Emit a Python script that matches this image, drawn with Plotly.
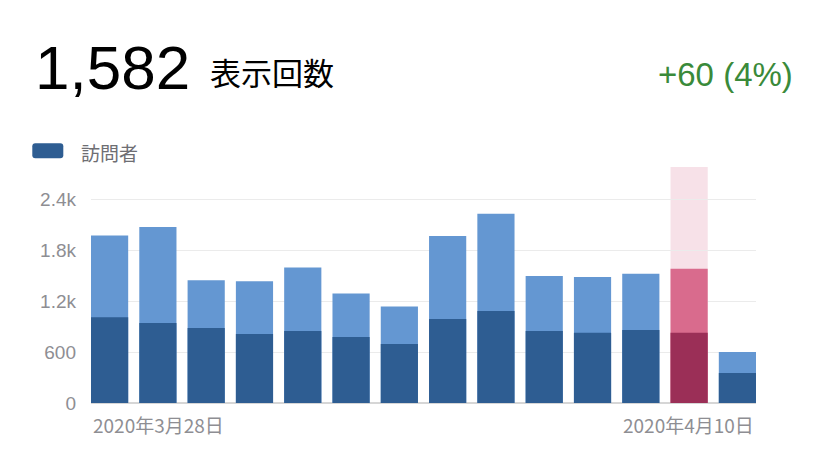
import plotly.graph_objects as go

# daily stats, 2020-03-28 .. 2020-04-10
dates = ["3/28", "3/29", "3/30", "3/31", "4/1", "4/2", "4/3",
         "4/4", "4/5", "4/6", "4/7", "4/8", "4/9", "4/10"]
views = [1972, 2073, 1445, 1434, 1595, 1289, 1136,
         1967, 2230, 1496, 1484, 1523, 1582, 601]
visitors = [1010, 942, 884, 813, 848, 778, 695,
            989, 1084, 848, 828, 860, 828, 353]
highlight = 12  # selected day

y_ticks = [0, 600, 1200, 1800, 2400]
y_tick_labels = ["0", "600", "1.2k", "1.8k", "2.4k"]
x_labels = ["2020年3月28日", "2020年4月10日"]

headline_value = "1,582"
headline_label = "表示回数"
change_text = "+60 (4%)"
legend_label = "訪問者"

LATIN = "Liberation Sans, Noto Sans CJK JP, sans-serif"
CJK = "Noto Sans CJK JP, Liberation Sans, sans-serif"
GRAY = "#8e8e93"

# page body has an 8px margin, so the figure is drawn 8px in
OFF = 8
W, H = 828 - 2 * OFF, 459 - 2 * OFF
# plot area in screen pixels
L, R, T, B = 90.7, 755.7, 167, 403


def px(x):
    return (x - L) / (R - L)


def py(y):
    return (B - y) / (B - T)


light = ["#6497d2"] * len(dates)
dark = ["#2e5d92"] * len(dates)
light[highlight] = "#d96b8d"
dark[highlight] = "#9b2f57"

fig = go.Figure()
fig.add_trace(go.Bar(x=dates, y=views, marker=dict(color=light, line_width=0),
                     showlegend=False, hoverinfo="skip"))
fig.add_trace(go.Bar(x=dates, y=visitors, marker=dict(color=dark, line_width=0),
                     showlegend=False, hoverinfo="skip"))

# highlight band behind the selected bar
fig.add_shape(type="rect", xref="x", yref="paper",
              x0=highlight - 0.385, x1=highlight + 0.385, y0=0, y1=1,
              fillcolor="rgba(217,107,141,0.2)", line_width=0, layer="between")

# legend swatch (rounded)
x0, x1, y0, y1, r = -58.7, -27.7, 8.7, 23.7, 3
path = (f"M{x0+r},{y0} L{x1-r},{y0} Q{x1},{y0} {x1},{y0+r} L{x1},{y1-r} "
        f"Q{x1},{y1} {x1-r},{y1} L{x0+r},{y1} Q{x0},{y1} {x0},{y1-r} "
        f"L{x0},{y0+r} Q{x0},{y0} {x0+r},{y0} Z")
fig.add_shape(type="path", xref="paper", yref="paper", xsizemode="pixel",
              ysizemode="pixel", xanchor=0, yanchor=1, path=path,
              fillcolor="#2e5d92", line_width=0)

annos = [
    dict(text=headline_value, x=px(33), y=py(67), xanchor="left", yanchor="middle",
         font=dict(size=62, color="#000000", family=LATIN)),
    dict(text=headline_label, x=px(208), y=py(71), xanchor="left", yanchor="middle",
         font=dict(size=31, color="#000000", family=CJK)),
    dict(text=change_text, x=px(795), y=py(75), xanchor="right", yanchor="middle",
         font=dict(size=33, color="#3a8a3a", family=LATIN)),
    dict(text=legend_label, x=px(79), y=py(152), xanchor="left", yanchor="middle",
         font=dict(size=19, color="#6e6e73", family=CJK)),
    dict(text=x_labels[0], x=0, y=py(424), xanchor="left", yanchor="middle",
         font=dict(size=19, color=GRAY, family=CJK)),
    dict(text=x_labels[1], x=1, y=py(424), xanchor="right", yanchor="middle",
         font=dict(size=19, color=GRAY, family=CJK)),
]
for a in annos:
    fig.add_annotation(xref="paper", yref="paper", showarrow=False, **a)

fig.update_layout(
    width=W, height=H,
    margin=dict(l=L - OFF, r=W - (R - OFF), t=T - OFF, b=H - (B - OFF), pad=0),
    barmode="overlay", bargap=0.23,
    plot_bgcolor="white", paper_bgcolor="white",
    showlegend=False,
)
fig.update_xaxes(range=[-0.385, len(dates) - 0.615], showticklabels=False,
                 showgrid=False, zeroline=False, showline=False, ticks="")
fig.update_yaxes(range=[0, 2780], tickvals=y_ticks, ticktext=y_tick_labels,
                 gridcolor="#ebebeb", gridwidth=1, zeroline=True,
                 zerolinecolor="#d6d6d6", zerolinewidth=1.5,
                 tickfont=dict(size=19, color=GRAY, family=LATIN),
                 ticklabelstandoff=14, showline=False)

fig.write_html("out.html")
